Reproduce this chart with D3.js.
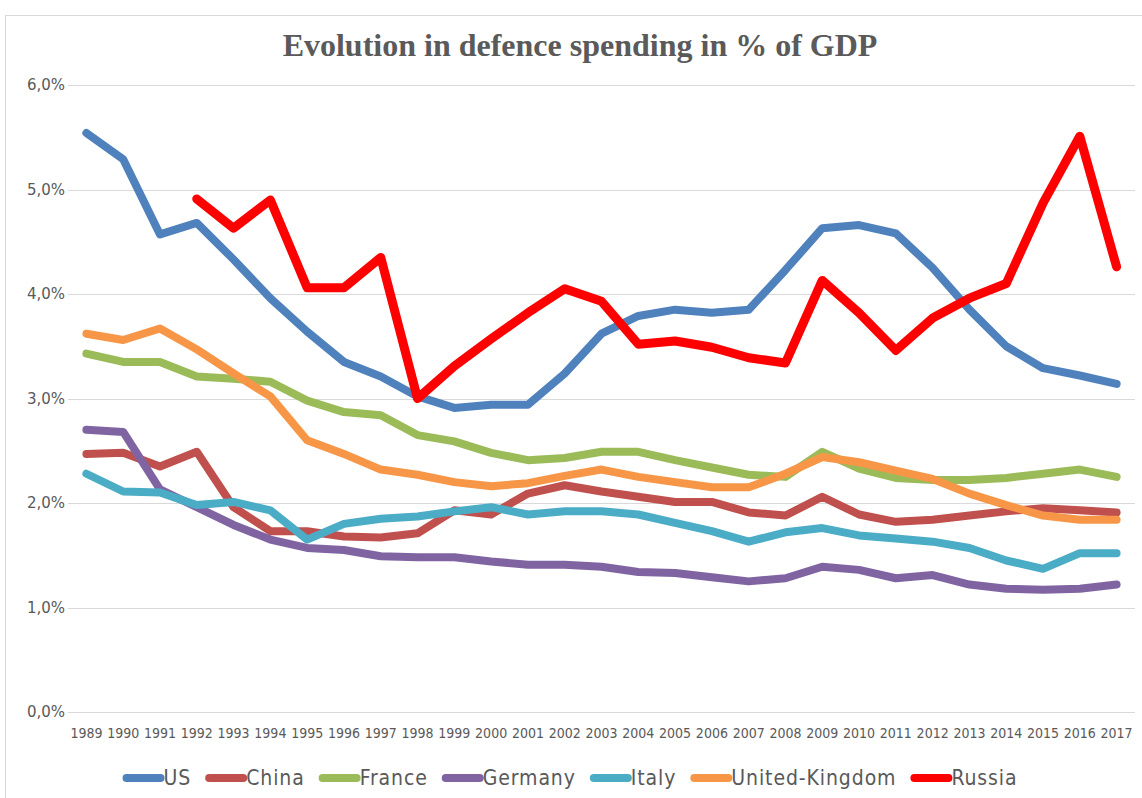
<!DOCTYPE html>
<html><head><meta charset="utf-8">
<script src="https://cdn.jsdelivr.net/npm/d3@7"></script>
<style>body{margin:0;background:#fff}svg{display:block}</style>
</head><body><svg id="c" width="1142" height="798"></svg>
<script>
const years = [1989,1990,1991,1992,1993,1994,1995,1996,1997,1998,1999,2000,2001,2002,2003,2004,2005,2006,2007,2008,2009,2010,2011,2012,2013,2014,2015,2016,2017];
const us      = [5.54,5.29,4.57,4.68,4.33,3.96,3.64,3.35,3.21,3.02,2.91,2.94,2.94,3.24,3.62,3.79,3.85,3.82,3.85,4.23,4.63,4.66,4.58,4.25,3.85,3.50,3.29,3.22,3.14];
const china   = [2.47,2.48,2.35,2.49,1.96,1.73,1.73,1.68,1.67,1.71,1.93,1.89,2.09,2.17,2.11,2.06,2.01,2.01,1.91,1.88,2.06,1.89,1.82,1.84,1.88,1.92,1.95,1.93,1.91];
const france  = [3.43,3.35,3.35,3.21,3.19,3.16,2.98,2.87,2.84,2.65,2.59,2.48,2.41,2.43,2.49,2.49,2.41,2.34,2.27,2.25,2.49,2.33,2.24,2.22,2.22,2.24,2.28,2.32,2.25];
const germany = [2.70,2.68,2.13,1.96,1.79,1.65,1.57,1.55,1.49,1.48,1.48,1.44,1.41,1.41,1.39,1.34,1.33,1.29,1.25,1.28,1.39,1.36,1.28,1.31,1.22,1.18,1.17,1.18,1.22];
const italy   = [2.28,2.11,2.10,1.98,2.01,1.93,1.65,1.80,1.85,1.87,1.92,1.96,1.89,1.92,1.92,1.89,1.81,1.73,1.63,1.72,1.76,1.69,1.66,1.63,1.57,1.45,1.37,1.52,1.52];
const uk      = [3.62,3.56,3.67,3.47,3.24,3.02,2.60,2.47,2.32,2.27,2.20,2.16,2.19,2.26,2.32,2.25,2.20,2.15,2.15,2.28,2.44,2.39,2.31,2.23,2.09,1.98,1.88,1.84,1.84];
const russia  = [null,null,null,4.91,4.63,4.90,4.06,4.06,4.35,3.00,3.31,3.57,3.82,4.05,3.93,3.52,3.55,3.49,3.39,3.34,4.13,3.82,3.46,3.77,3.96,4.10,4.87,5.51,4.26];
const yTicks = [0,1,2,3,4,5,6];
const seriesNames = ["US","China","France","Germany","Italy","United-Kingdom","Russia"];
const seriesColors = ["#4F81BD","#C0504D","#9BBB59","#8064A2","#4BACC6","#F79646","#FF0000"];
const seriesValues = [us,china,france,germany,italy,uk,russia];
const titleText = "Evolution in defence spending in % of GDP";

const svg = d3.select("#c");
const m = {left:68, right:1135, top:85, bottom:712};

svg.append("rect").attr("x",5.5).attr("y",15.5).attr("width",1160).attr("height",820)
  .attr("fill","#fff").attr("stroke","#d9d9d9").attr("stroke-width",1);

const x = d3.scaleBand().domain(years).range([m.left,m.right]);
const y = d3.scaleLinear().domain([0,6]).range([m.bottom,m.top]);

// gridlines
svg.append("g").selectAll("line").data(yTicks).join("line")
  .attr("x1",m.left).attr("x2",m.right)
  .attr("y1",d=>Math.round(y(d))+0.5).attr("y2",d=>Math.round(y(d))+0.5)
  .attr("stroke","#d9d9d9").attr("stroke-width",1);

// y axis labels
const yAxis = d3.axisLeft(y).tickValues(yTicks).tickSize(0).tickPadding(0)
  .tickFormat(d=>d3.format(".1f")(d).replace(".",",")+"%");
const gy = svg.append("g").attr("transform",`translate(${m.left-3},0)`).call(yAxis);
gy.select(".domain").remove();
gy.selectAll("text").attr("font-family","'DejaVu Sans',Verdana,sans-serif").attr("font-size",15).attr("fill","#595959");

// x axis labels
const xAxis = d3.axisBottom(x).tickSize(0).tickPadding(0);
const gx = svg.append("g").attr("transform",`translate(0,${m.bottom+16})`).call(xAxis);
gx.select(".domain").remove();
gx.selectAll("text").attr("font-family","'Liberation Sans Narrow','DejaVu Sans Condensed',Arial,sans-serif").attr("font-size",14).attr("fill","#595959");

// lines
const line = d3.line().defined(d=>d!=null)
  .x((d,i)=>x(years[i])+x.bandwidth()/2).y(d=>y(d));
svg.append("g").selectAll("path").data(seriesValues).join("path")
  .attr("d",d=>line(d))
  .attr("fill","none")
  .attr("stroke",(d,i)=>seriesColors[i])
  .attr("stroke-width",(d,i)=>i===6?9:8)
  .attr("stroke-linejoin","round").attr("stroke-linecap","round");

// title
svg.append("text").attr("x",580).attr("y",56).attr("text-anchor","middle")
  .attr("font-family","'Liberation Serif','Times New Roman',serif").attr("font-weight","bold")
  .attr("font-size",32).attr("fill","#5a5a5a").text(titleText);

// legend
const lg = svg.append("g");
const items = lg.selectAll("g").data(seriesNames).join("g");
items.append("line").attr("x1",4).attr("x2",38).attr("y1",0).attr("y2",0)
  .attr("stroke",(d,i)=>seriesColors[i]).attr("stroke-width",8).attr("stroke-linecap","round");
items.append("text").attr("x",41).attr("y",7).text(d=>d)
  .attr("font-family","'Liberation Sans Narrow','DejaVu Sans Condensed',Arial,sans-serif")
  .attr("font-size",21).attr("letter-spacing",0.9).attr("fill","#595959");
let off = 0; const pos=[];
items.each(function(d,i){ const w = d3.select(this).select("text").node().getComputedTextLength(); pos.push(off); off += 41 + w + 14; });
const total = off - 14;
const start = 570 - total/2;
items.attr("transform",(d,i)=>`translate(${start+pos[i]},778)`);
</script></body></html>
